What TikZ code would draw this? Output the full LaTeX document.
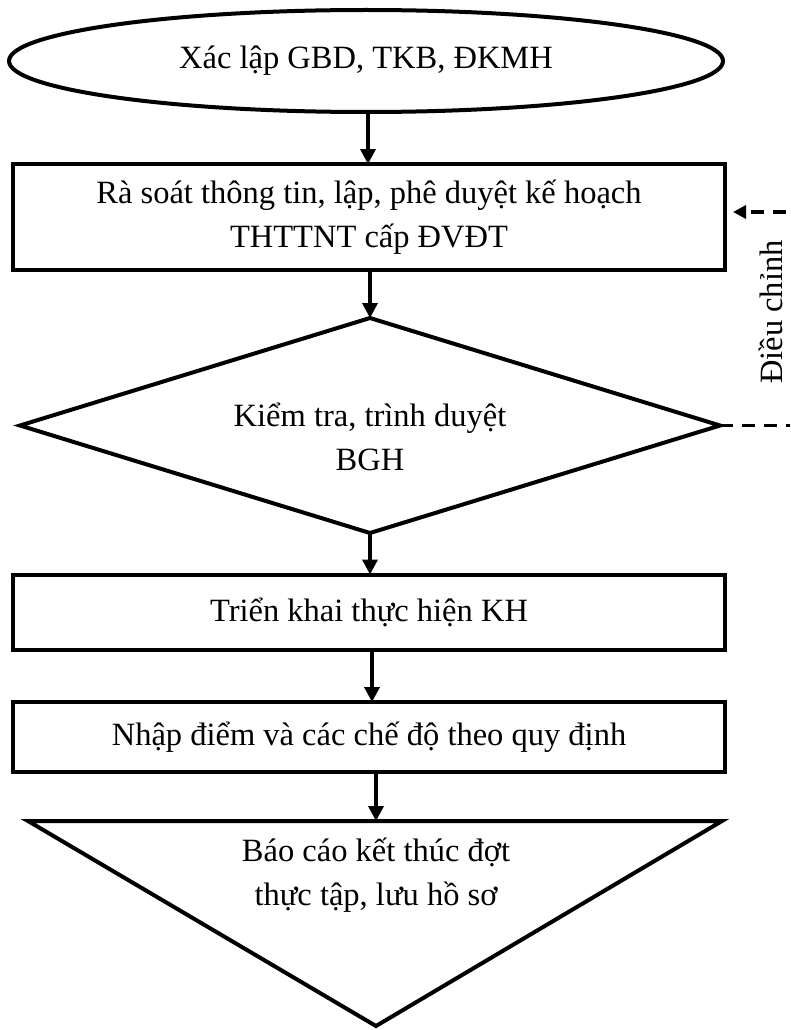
\documentclass[tikz,border=0pt]{standalone}
\usepackage{fontspec}
\setmainfont{Liberation Serif}
\usetikzlibrary{shapes.geometric,arrows.meta}
\begin{document}
\begin{tikzpicture}[x=1pt,y=-1pt,
  every node/.style={font=\fontsize{32.5}{44}\selectfont, align=center, inner sep=0pt, outer sep=0pt},
  shp/.style={draw, line width=4pt},
  flow/.style={line width=3.5pt, -{Triangle[length=15pt,width=15pt]}},
  fb/.style={line width=3.5pt, dash pattern=on 13pt off 9pt}]
\useasboundingbox (0,0) rectangle (790,1030);
\clip (0,0) rectangle (790,1030);
\node[shp, ellipse, minimum width=714pt, minimum height=102pt] (start) at (366,61) {Xác lập GBD, TKB, ĐKMH};
\node[shp, rectangle, minimum width=712pt, minimum height=106pt] (plan) at (369,217) {Rà soát thông tin, lập, phê duyệt kế hoạch\\THTTNT cấp ĐVĐT};
\node[shp, diamond, minimum width=700pt, minimum height=215pt] (check) at (370,425.5) {};
\node (checktxt) at (370,437) {Kiểm tra, trình duyệt\\BGH};
\node[shp, rectangle, minimum width=712pt, minimum height=75pt] (exec) at (369,612) {Triển khai thực hiện KH};
\node[shp, rectangle, minimum width=712pt, minimum height=70pt] (enter) at (369,737) {Nhập điểm và các chế độ theo quy định};
\coordinate (tl) at (28,821);
\coordinate (tr) at (722,821);
\coordinate (tb) at (376,1026);
\coordinate (ttop) at (376,821);
\draw[line width=4pt, line join=miter] (tl) -- (tr) -- (tb) -- cycle;
\node (report) at (376,875) {Báo cáo kết thúc đợt\\thực tập, lưu hồ sơ};
\coordinate (a1) at (368,0);
\coordinate (a2) at (372,0);
\draw[flow] (start.south -| a1) -- (plan.north -| a1);
\draw[flow] (plan.south -| check.north) -- (check.north);
\draw[flow] (check.south) -- (check.south |- exec.north);
\draw[flow] (exec.south -| a2) -- (enter.north -| a2);
\draw[flow] (enter.south -| ttop) -- (ttop);
\coordinate (fbr) at (800,425.5);
\coordinate (fbt) at (800,212);
\coordinate (fbend) at (733,212);
\draw[fb, -{Triangle[length=13pt,width=13pt]}] (check.east) -- (fbr) -- (fbt) -- (fbend);
\node[rotate=90] (lbl) at (771,312) {Điều chỉnh};
\end{tikzpicture}
\end{document}
